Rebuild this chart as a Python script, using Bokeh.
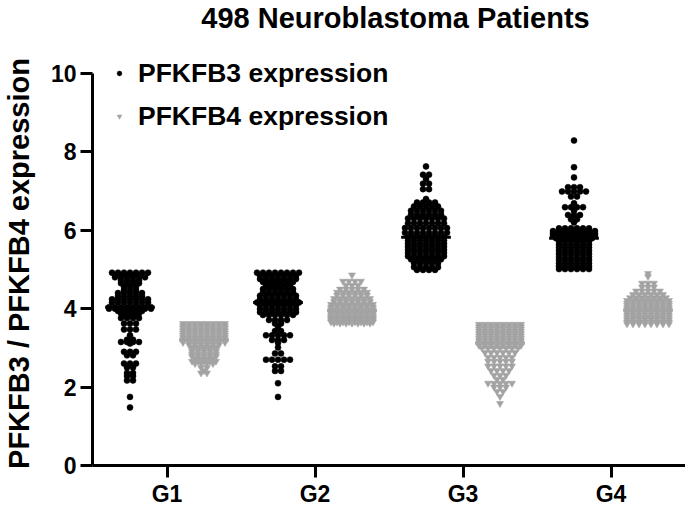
import numpy as np
from bokeh.plotting import figure
from bokeh.models import ColumnDataSource, FixedTicker, Legend, LegendItem, Range1d, Label
from bokeh.embed import file_html
from bokeh.resources import INLINE

# ---------------- data (value -> number of patients) -------------
groups = ["G1", "G2", "G3", "G4"]
title_text = "498 Neuroblastoma Patients"
y_label = "PFKFB3 / PFKFB4 expression"
series_names = ["PFKFB3 expression", "PFKFB4 expression"]
y_ticks = [0, 2, 4, 6, 8, 10]

g1_pfkfb3_vals = [4.92, 4.86, 4.80, 4.72, 4.65, 4.56, 4.48, 4.40, 4.32, 4.24, 4.16, 4.04,
                  4.00, 3.94, 3.88, 3.82, 3.76, 3.62, 3.47, 3.32, 3.21, 3.15, 3.11, 2.90,
                  2.81, 2.60, 2.50, 2.36, 2.28, 2.17, 1.75, 1.48]
g1_pfkfb3_counts = [7, 6, 6, 4, 4, 3, 3, 5, 5, 7, 7, 8,
                    8, 5, 4, 3, 4, 3, 3, 1, 2, 4, 1, 3,
                    2, 3, 2, 2, 2, 2, 1, 1]

g1_pfkfb4_vals = [3.62, 3.56, 3.50, 3.44, 3.38, 3.32, 3.26, 3.20, 3.14, 3.08, 3.02, 2.96,
                  2.90, 2.84, 2.78, 2.72, 2.66, 2.60, 2.50, 2.42, 2.36]
g1_pfkfb4_counts = [8, 8, 8, 8, 8, 8, 8, 8, 8, 6, 5, 5,
                    5, 5, 5, 4, 5, 4, 2, 1, 2]

g2_pfkfb3_vals = [4.92, 4.84, 4.76, 4.68, 4.58, 4.50, 4.42, 4.33, 4.24, 4.16,
                  4.08, 3.99, 3.91, 3.84, 3.71, 3.62, 3.54, 3.43, 3.32, 3.20,
                  3.13, 3.01, 2.86, 2.70, 2.53, 2.41, 2.10, 1.75]
g2_pfkfb3_counts = [8, 7, 7, 6, 5, 6, 6, 7, 7, 8,
                    7, 7, 7, 6, 4, 2, 1, 2, 5, 3,
                    1, 1, 2, 5, 2, 2, 1, 1]

g2_pfkfb4_vals = [4.86, 4.70, 4.60, 4.50, 4.42, 4.34, 4.26, 4.18, 4.11, 4.04,
                  3.98, 3.93, 3.88, 3.83, 3.78, 3.74, 3.70, 3.66, 3.63]
g2_pfkfb4_counts = [1, 4, 3, 5, 6, 6, 7, 7, 8, 8,
                    8, 8, 8, 8, 8, 8, 8, 8, 7]

g3_pfkfb3_vals = [7.63, 7.42, 7.31, 7.19, 7.05, 6.80, 6.71, 6.61, 6.50, 6.40, 6.30, 6.18,
                  6.06, 5.94, 5.82, 5.74, 5.66, 5.58, 5.50, 5.42, 5.34, 5.26, 5.16, 5.06, 4.99]
g3_pfkfb3_counts = [1, 2, 1, 2, 2, 1, 4, 5, 6, 6, 7, 7,
                    8, 8, 7, 7, 7, 7, 7, 7, 7, 6, 5, 5, 4]

g3_pfkfb4_vals = [3.60, 3.54, 3.48, 3.42, 3.36, 3.30, 3.24, 3.18, 3.12, 3.06, 3.00,
                  2.88, 2.76, 2.66, 2.54, 2.42, 2.30, 2.20, 2.10, 2.00, 1.89, 1.76, 1.58]
g3_pfkfb4_counts = [8, 8, 8, 8, 8, 8, 8, 8, 8, 8, 7,
                    6, 5, 5, 5, 4, 3, 2, 5, 3, 2, 1, 1]

g4_pfkfb3_vals = [8.29, 7.61, 7.35, 7.10, 6.99, 6.86, 6.69, 6.59, 6.50, 6.39, 6.28, 6.20,
                  6.05, 5.98, 5.92, 5.86, 5.80, 5.72, 5.64, 5.56, 5.48, 5.40, 5.32,
                  5.24, 5.16, 5.08, 5.01]
g4_pfkfb3_counts = [1, 1, 1, 3, 5, 2, 1, 4, 1, 3, 2, 1,
                    6, 8, 8, 8, 7, 6, 6, 6, 6, 6, 6,
                    6, 6, 6, 6]

g4_pfkfb4_vals = [4.90, 4.82, 4.65, 4.55, 4.45, 4.36, 4.28, 4.21, 4.14, 4.08, 4.02, 3.96,
                  3.93, 3.90, 3.84, 3.78, 3.75, 3.72, 3.66, 3.61]
g4_pfkfb4_counts = [1, 1, 3, 3, 5, 6, 7, 8, 8, 8, 8, 8,
                    4, 8, 8, 8, 4, 8, 8, 8]

pfkfb3 = [(g1_pfkfb3_vals, g1_pfkfb3_counts), (g2_pfkfb3_vals, g2_pfkfb3_counts),
          (g3_pfkfb3_vals, g3_pfkfb3_counts), (g4_pfkfb3_vals, g4_pfkfb3_counts)]
pfkfb4 = [(g1_pfkfb4_vals, g1_pfkfb4_counts), (g2_pfkfb4_vals, g2_pfkfb4_counts),
          (g3_pfkfb4_vals, g3_pfkfb4_counts), (g4_pfkfb4_vals, g4_pfkfb4_counts)]

# ---------------- layout (the frame covers the whole figure; axes are pinned) ------------------
FONT = "Liberation Sans"
BLACK = "#000000"
GRAY = "#a3a3a3"
W, H = 685, 514
Y0_PX = 465.0             # pixel row of y = 0
PX_PER_Y = 39.2
PX_PER_X = 148.0          # pixels per category step
X1_PX = 166.5             # pixel column of the first category
YAXIS_PX = 92.0           # pixel column of the y axis
DOT_STEP = 6.0 / PX_PER_X  # horizontal spacing of side-by-side dots
SERIES_SHIFT = 0.25       # offset of each series from the category tick
MEDIAN_HALF = 0.168


def px_to_x(px):
    return 1 + (px - X1_PX) / PX_PER_X


def px_to_y(py):
    return (Y0_PX - py) / PX_PER_Y


x_start, x_end = px_to_x(0), px_to_x(W)
y_start, y_end = px_to_y(H), px_to_y(0)
yaxis_x = px_to_x(YAXIS_PX)


def expand(vals, counts, center):
    xs, ys = [], []
    for v, n in zip(vals, counts):
        for i in range(n):
            xs.append(center + (i - (n - 1) / 2.0) * DOT_STEP)
            ys.append(v)
    return xs, ys


def build(series, shift):
    xs, ys, mx0, mx1, my = [], [], [], [], []
    for gi, (vals, counts) in enumerate(series):
        c = gi + 1 + shift
        x, y = expand(vals, counts, c)
        xs += x
        ys += y
        mx0.append(c - MEDIAN_HALF)
        mx1.append(c + MEDIAN_HALF)
        my.append(float(np.median(y)))
    return (ColumnDataSource(dict(x=xs, y=ys)),
            ColumnDataSource(dict(x0=mx0, x1=mx1, y=my)))


src3, med3 = build(pfkfb3, -SERIES_SHIFT)
src4, med4 = build(pfkfb4, SERIES_SHIFT)

p = figure(width=W, height=H, output_backend="svg", toolbar_location=None,
           x_range=Range1d(x_start, x_end), y_range=Range1d(y_start, y_end),
           min_border_left=0, min_border_right=0, min_border_bottom=0, min_border_top=0)

p.outline_line_color = None
p.xgrid.visible = False
p.ygrid.visible = False
p.background_fill_color = "white"
p.border_fill_color = "white"

for ax in (p.xaxis[0], p.yaxis[0]):
    ax.axis_line_width = 3
    ax.axis_line_color = "black"
    ax.major_tick_line_width = 3
    ax.major_tick_line_color = "black"
    ax.major_tick_out = 12
    ax.major_tick_in = 0
    ax.minor_tick_line_color = None
    ax.major_label_text_font = FONT
    ax.major_label_text_font_style = "bold"
    ax.major_label_text_color = "black"

p.yaxis.ticker = FixedTicker(ticks=y_ticks)
p.yaxis.bounds = (0, 10)
p.yaxis.fixed_location = yaxis_x
p.yaxis.major_label_standoff = 4
p.yaxis.major_label_text_font_size = "23px"

p.xaxis.ticker = FixedTicker(ticks=[1, 2, 3, 4])
p.xaxis.major_label_overrides = {i + 1: g for i, g in enumerate(groups)}
p.xaxis.bounds = (yaxis_x, x_end)
p.xaxis.fixed_location = 0
p.xaxis.major_label_standoff = 3
p.xaxis.major_label_text_font_size = "23px"

r3 = p.scatter("x", "y", source=src3, marker="circle", size=6,
               fill_color=BLACK, line_color=BLACK, line_width=0.5)
r4 = p.scatter("x", "y", source=src4, marker="inverted_triangle", size=7,
               fill_color=GRAY, line_color=GRAY, line_width=0.5)
p.segment(x0="x0", y0="y", x1="x1", y1="y", source=med4, line_color=GRAY, line_width=3)
p.segment(x0="x0", y0="y", x1="x1", y1="y", source=med3, line_color=BLACK, line_width=3)

# legend: item rows 36 px high, 7 px apart -> 79 px tall, top edge at 55 px
legend = Legend(items=[LegendItem(label=series_names[0], renderers=[r3]),
                       LegendItem(label=series_names[1], renderers=[r4])],
                location=(109, H - 55 - 79), glyph_width=20, glyph_height=12, label_height=36,
                label_standoff=9, spacing=7, padding=0, margin=0,
                border_line_alpha=0, background_fill_alpha=0,
                label_text_font=FONT, label_text_font_style="bold",
                label_text_font_size="26.5px", label_text_color="black")
p.add_layout(legend)

title = Label(x=px_to_x(395), y=px_to_y(17), text=title_text, text_align="center",
              text_baseline="alphabetic", text_font=FONT, text_font_style="bold",
              text_font_size="29px", text_color="black")
p.add_layout(title)

ylab = Label(x=px_to_x(18), y=px_to_y(263), text=y_label, angle=np.pi / 2,
             text_align="center", text_baseline="alphabetic", text_font=FONT,
             text_font_style="bold", text_font_size="29px", text_color="black")
p.add_layout(ylab)

open("out.html", "w").write(file_html(p, INLINE))
